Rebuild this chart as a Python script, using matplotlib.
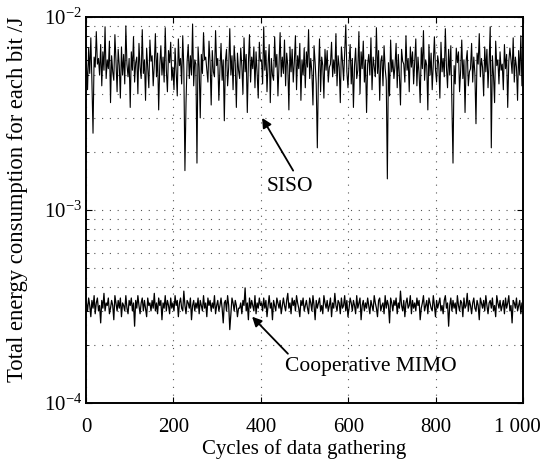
import numpy as np
import matplotlib
matplotlib.use("Agg")
import matplotlib.pyplot as plt
import matplotlib.transforms as mtransforms
from matplotlib.ticker import LogLocator, FixedLocator, NullFormatter

plt.rcParams['font.family'] = ['Liberation Serif', 'DejaVu Serif']
plt.rcParams['mathtext.fontset'] = 'custom'
plt.rcParams['mathtext.rm'] = 'Liberation Serif'
plt.rcParams['mathtext.it'] = 'Liberation Serif:italic'

# SISO energy per bit, in units of 1e-3 J (400 samples over 1000 cycles)
siso_e3 = [
    5.8, 4.2, 6.9, 5.1, 7.8, 4.6, 2.5, 6.2, 5.5, 8.4, 5.7, 6.1, 5.0, 7.2, 4.4, 6.6, 5.3, 8.9, 4.8, 6.0,
    5.4, 7.5, 3.6, 6.3, 5.2, 4.7, 8.1, 5.9, 4.1, 6.8, 5.6, 3.8, 7.0, 5.0, 6.4, 4.5, 9.0, 5.7, 4.9, 6.1,
    3.4, 6.6, 5.3, 7.9, 4.6, 5.8, 6.2, 4.0, 7.3, 5.5, 4.8, 8.6, 5.1, 6.0, 3.7, 6.9, 5.4, 4.3, 7.6, 5.9,
    6.3, 4.4, 5.7, 8.2, 4.9, 6.5, 3.3, 5.6, 7.1, 5.0, 6.2, 4.6, 8.8, 5.3, 4.1, 6.7, 5.8, 7.4, 4.7, 5.5,
    4.2, 6.9, 5.2, 3.9, 7.7, 5.6, 6.1, 4.5, 8.0, 5.4, 1.6, 3.6, 5.9, 7.2, 4.8, 6.3, 5.0, 9.2, 4.4, 6.0,
    5.7, 1.75, 7.0, 5.5, 3.0, 6.4, 5.1, 8.3, 6.0, 6.2, 5.3, 4.6, 7.5, 5.8, 3.5, 6.7, 5.2, 4.9, 8.5, 5.6,
    6.1, 3.7, 5.4, 7.3, 4.7, 6.0, 2.9, 5.9, 6.8, 4.4, 5.5, 8.7, 5.0, 6.3, 4.2, 7.1, 5.7, 3.4, 6.5, 5.3,
    4.8, 6.9, 5.6, 4.0, 7.8, 5.2, 6.4, 3.2, 5.8, 8.1, 4.6, 6.2, 5.4, 7.0, 4.3, 6.6, 5.1, 3.8, 7.4, 5.9,
    6.0, 4.5, 8.9, 5.3, 6.7, 4.1, 5.7, 7.2, 3.6, 6.1, 5.0, 4.7, 7.9, 5.5, 6.4, 3.9, 5.8, 8.3, 4.9, 6.2,
    5.1, 7.6, 4.4, 6.5, 5.6, 3.3, 7.0, 5.2, 6.8, 4.6, 5.9, 8.0, 4.2, 6.3, 5.4, 7.3, 3.7, 6.0, 5.0, 6.9,
    4.3, 6.6, 5.5, 8.6, 4.8, 6.1, 5.2, 3.5, 7.1, 5.8, 4.5, 2.1, 5.0, 7.7, 4.1, 6.2, 5.6, 3.8, 6.8, 5.3,
    6.7, 4.6, 5.5, 5.7, 7.4, 4.9, 6.0, 5.1, 8.2, 4.4, 6.3, 5.5, 3.6, 7.0, 5.9, 4.7, 6.5, 9.1, 5.2, 4.3,
    5.8, 7.2, 4.5, 6.1, 3.4, 5.6, 6.9, 4.8, 5.3, 8.4, 4.0, 6.6, 5.4, 7.5, 4.6, 6.0, 3.2, 5.7, 6.4, 5.0,
    7.8, 4.2, 6.2, 5.5, 4.9, 8.8, 5.1, 6.7, 3.7, 5.9, 6.3, 4.4, 7.1, 5.4, 4.7, 1.45, 5.8, 3.9, 7.6, 5.2,
    6.0, 4.8, 5.6, 7.3, 4.3, 6.4, 5.0, 3.5, 6.8, 5.9, 5.7, 4.6, 8.0, 5.3, 6.1, 4.1, 7.0, 5.5, 6.6, 4.5,
    5.9, 7.7, 4.4, 6.2, 5.1, 3.6, 6.9, 5.4, 8.5, 4.7, 6.0, 5.6, 3.3, 7.2, 5.0, 6.5, 4.2, 5.8, 7.9, 5.3,
    4.6, 6.3, 5.7, 3.8, 7.4, 5.2, 6.1, 4.9, 8.7, 5.5, 4.3, 6.8, 5.0, 7.1, 3.5, 1.75, 5.6, 4.5, 6.9, 5.8,
    6.6, 4.1, 5.3, 7.6, 4.8, 6.0, 3.2, 5.9, 6.7, 4.4, 5.2, 5.4, 7.3, 4.6, 6.2, 5.1, 2.8, 6.5, 5.7, 8.2,
    4.9, 6.1, 5.5, 3.9, 7.0, 5.2, 6.8, 4.3, 5.8, 8.9, 2.1, 6.3, 5.0, 3.6, 7.5, 5.6, 6.0, 4.5, 6.6, 5.3,
    5.7, 4.2, 7.2, 5.4, 6.4, 3.4, 5.9, 6.9, 6.0, 5.1, 7.8, 4.6, 6.2, 5.5, 3.7, 6.7, 5.0, 8.0, 4.4, 6.1,
]

# Cooperative MIMO energy per bit, in units of 1e-4 J
mimo_e4 = [
    3.3, 3.0, 3.5, 3.2, 2.8, 3.4, 3.1, 3.6, 2.9, 3.3, 3.5, 3.0, 3.2, 2.6, 3.4, 3.1, 3.7, 3.0, 3.3, 3.2,
    3.5, 2.9, 3.1, 3.4, 3.2, 2.7, 3.6, 3.3, 3.0, 3.4, 3.1, 3.5, 2.8, 3.3, 3.2, 3.0, 3.6, 3.1, 2.9, 3.4,
    3.2, 3.5, 3.0, 3.3, 2.5, 3.4, 3.1, 3.6, 3.2, 2.9, 3.3, 3.5, 3.0, 3.4, 3.1, 2.8, 3.5, 3.2, 3.3, 3.0,
    3.4, 3.1, 3.7, 3.0, 3.3, 2.9, 3.5, 3.2, 3.4, 2.7, 3.3, 3.1, 3.6, 3.0, 3.4, 3.2, 2.9, 3.5, 3.1, 3.3,
    3.0, 3.6, 3.2, 3.4, 2.8, 3.3, 3.5, 3.1, 3.0, 3.8, 3.2, 2.9, 3.4, 3.3, 3.1, 3.5, 2.7, 3.2, 3.4, 3.0,
    3.3, 3.1, 3.5, 2.9, 3.4, 3.2, 3.0, 3.6, 3.1, 3.3, 2.8, 3.5, 3.2, 3.4, 3.0, 3.3, 3.1, 3.6, 2.9, 3.2,
    3.4, 3.0, 3.2, 3.5, 3.1, 2.6, 3.3, 3.4, 3.0, 3.6, 3.2, 2.4, 2.9, 3.5, 3.3, 3.0, 3.4, 3.2, 2.8, 3.1,
    3.1, 3.3, 2.9, 3.4, 3.2, 3.95, 3.0, 3.3, 2.7, 3.5, 3.1, 3.4, 3.2, 3.0, 3.6, 2.9, 3.3, 3.1, 3.5, 3.2,
    3.3, 3.0, 3.5, 3.1, 3.4, 2.8, 3.2, 3.6, 3.1, 3.3, 2.7, 3.4, 3.2, 3.0, 3.5, 3.3, 3.1, 3.4, 2.9, 3.2,
    3.5, 3.2, 3.0, 3.4, 3.7, 3.1, 3.3, 2.9, 3.5, 3.2, 3.4, 3.0, 3.6, 3.3, 3.1, 2.8, 3.4, 3.2, 3.5, 3.0,
    3.2, 3.4, 3.1, 2.9, 3.5, 3.3, 3.0, 3.6, 3.2, 2.7, 3.4, 3.1, 3.3, 3.5, 3.0, 3.2, 2.9, 3.6, 3.3, 3.1,
    3.4, 3.0, 3.2, 3.5, 2.8, 3.3, 3.1, 3.7, 3.2, 3.0, 3.4, 3.3, 2.9, 3.5, 3.1, 3.2, 3.6, 3.0, 3.4, 2.8,
    3.1, 3.5, 3.3, 3.0, 3.4, 3.2, 2.9, 3.6, 3.1, 3.3, 3.5, 2.7, 3.2, 3.4, 3.0, 3.3, 3.1, 3.5, 3.2, 2.9,
    3.4, 3.2, 3.0, 3.6, 3.3, 3.1, 2.8, 3.4, 3.5, 3.0, 3.2, 3.3, 2.9, 3.6, 3.1, 3.4, 3.2, 2.6, 3.5, 3.3,
    3.0, 3.4, 3.2, 3.5, 2.9, 3.3, 3.1, 3.8, 3.2, 3.0, 3.4, 2.8, 3.3, 3.5, 3.1, 3.2, 3.6, 2.9, 3.4, 3.1,
    3.3, 3.0, 3.5, 3.2, 3.4, 2.7, 3.1, 3.3, 3.6, 3.0, 3.2, 3.4, 2.9, 3.5, 3.3, 3.1, 3.0, 3.6, 3.2, 2.8,
    3.4, 3.1, 3.3, 3.5, 3.0, 3.2, 2.9, 3.4, 3.6, 3.1, 3.3, 2.5, 3.2, 3.5, 3.0, 3.4, 3.1, 3.3, 2.9, 3.6,
    3.2, 3.0, 3.4, 3.3, 2.8, 3.5, 3.1, 3.2, 3.7, 3.0, 3.4, 3.2, 2.9, 3.3, 3.5, 3.1, 3.0, 3.4, 3.2, 2.7,
    3.5, 3.3, 3.1, 3.4, 3.0, 3.6, 3.2, 2.9, 3.3, 3.4, 3.1, 3.5, 3.0, 3.2, 2.8, 3.6, 3.3, 3.1, 3.4, 3.0,
    3.2, 3.4, 2.9, 3.5, 3.1, 3.3, 3.6, 3.0, 3.2, 2.6, 3.4, 3.3, 3.1, 3.5, 3.0, 3.2, 3.4, 2.9, 3.3, 3.1,
]

cycles = np.linspace(1, 1000, len(siso_e3))
siso = np.array(siso_e3) * 1e-3
mimo = np.array(mimo_e4) * 1e-4

x_ticks = [0, 200, 400, 600, 800, 1000]
x_tick_labels = ['0', '200', '400', '600', '800', '1 000']

fig = plt.figure(figsize=(5.42, 4.61), dpi=100)
ax = fig.add_axes([0.1587, 0.1258, 0.8063, 0.8373])

ax.plot(cycles, siso, color='black', lw=0.8)
ax.plot(cycles, mimo, color='black', lw=0.9)

ax.set_yscale('log')
ax.set_xlim(0, 1000)
ax.set_ylim(1e-4, 1e-2)
ax.set_xticks(x_ticks)
ax.set_xticklabels(x_tick_labels)
ax.yaxis.set_major_locator(FixedLocator([1e-4, 1e-3, 1e-2]))
ax.set_yticklabels([r'$10^{-4}$', r'$10^{-3}$', r'$10^{-2}$'])
ax.yaxis.set_minor_locator(LogLocator(base=10, subs=np.arange(2, 10)))
ax.yaxis.set_minor_formatter(NullFormatter())

grid_kw = dict(color='#555555', linestyle=(0, (1, 6)), linewidth=0.8)
ax.grid(True, which='major', axis='both', **grid_kw)
ax.grid(True, which='minor', axis='y', **grid_kw)

ax.tick_params(which='both', direction='in', top=True, right=True, labelsize=15)
ax.tick_params(axis='x', pad=11)
ax.tick_params(axis='y', pad=3)
ax.tick_params(which='major', length=4)
ax.tick_params(which='minor', length=2)
for s in ax.spines.values():
    s.set_linewidth(1.4)

# shift the last x tick label left so it stays inside the figure
last = ax.get_xticklabels()[-1]
last.set_transform(last.get_transform() + mtransforms.ScaledTranslation(-6 / 100, 0, fig.dpi_scale_trans))

ax.set_xlabel('Cycles of data gathering', fontsize=15)
ax.xaxis.set_label_coords(0.5, -0.094)
ax.set_ylabel('Total energy consumption for each bit /J', fontsize=16.3)
ax.yaxis.set_label_coords(-0.133, 0.528)

arrow = dict(arrowstyle='-|>', color='black', lw=1.3, mutation_scale=14, shrinkA=0, shrinkB=0)
ax.annotate('', xy=(403, 3.0e-3), xytext=(474, 1.6e-3), arrowprops=arrow)
ax.text(467, 1.33e-3, 'SISO', fontsize=15.5, ha='center', va='center')
ax.annotate('', xy=(380, 2.8e-4), xytext=(462, 1.8e-4), arrowprops=arrow)
ax.text(652, 1.54e-4, 'Cooperative MIMO', fontsize=15.5, ha='center', va='center')

fig.savefig('out.png', dpi=100)
